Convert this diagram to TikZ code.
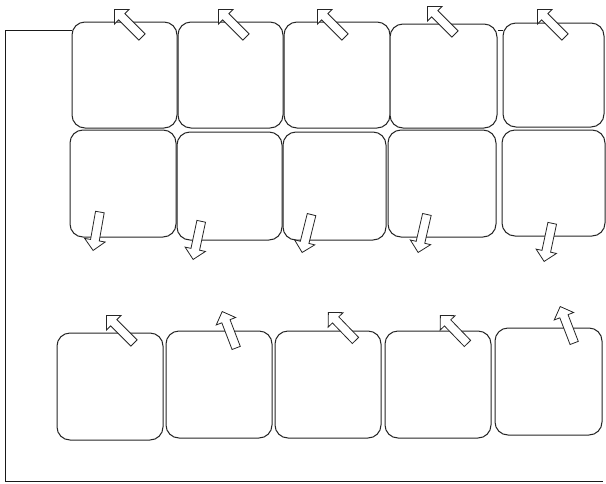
\documentclass[tikz,border=0pt]{standalone}
\usetikzlibrary{shapes.arrows}
\begin{document}
\begin{tikzpicture}[x=1pt,y=-1pt,
  box/.style={draw=black!85, fill=white, rounded corners=13pt, line width=1pt, inner sep=0pt},
  arr/.style={single arrow, draw=black!85, fill=white, line width=0.8pt, inner xsep=0pt, inner ysep=4pt,
    minimum height=39pt, single arrow head extend=6pt, single arrow tip angle=90, anchor=tip},
  frame/.style={draw=black!90, line width=1pt}]
\useasboundingbox (0,0) rectangle (606,483);
\coordinate (fcorner) at (5.5,30);
\coordinate (fend) at (603,481.5);
% boxes row 1
\node[box, minimum width=105pt, minimum height=106pt] (b1) at (124.5,75) {};
\node[box, minimum width=105pt, minimum height=106pt] (b2) at (230.5,75) {};
\node[box, minimum width=106pt, minimum height=106pt] (b3) at (337,75) {};
\node[box, minimum width=107pt, minimum height=104pt] (b4) at (443.5,76) {};
\node[box, minimum width=101pt, minimum height=104pt] (b5) at (553.5,75) {};
% row 2
\node[box, minimum width=106pt, minimum height=107pt] (b6) at (123,183.5) {};
\node[box, minimum width=105pt, minimum height=108pt] (b7) at (229.5,186) {};
\node[box, minimum width=103pt, minimum height=108pt] (b8) at (334.5,186) {};
\node[box, minimum width=108pt, minimum height=107pt] (b9) at (442,183.5) {};
\node[box, minimum width=103pt, minimum height=106pt] (b10) at (553.5,183) {};
% row 3
\node[box, minimum width=106pt, minimum height=107pt] (b11) at (110,386.5) {};
\node[box, minimum width=106pt, minimum height=107pt] (b12) at (219,384.5) {};
\node[box, minimum width=106pt, minimum height=107pt] (b13) at (328,384.5) {};
\node[box, minimum width=106pt, minimum height=107pt] (b14) at (438,384.5) {};
\node[box, minimum width=107pt, minimum height=107pt] (b15) at (548.5,381.5) {};
% frame line: runs behind row 1, visible in the gaps
\draw[frame] (b5.west |- fcorner) -- (b4.east |- fcorner);
\draw[frame] (b1.west |- fcorner) -- (fcorner) |- (fend);
% arrows row 1
\node[arr, rotate=135] (a1) at (114,9) {};
\node[arr, rotate=135] (a2) at (218,9) {};
\node[arr, rotate=135] (a3) at (317,9) {};
\node[arr, rotate=135] (a4) at (427,6) {};
\node[arr, rotate=135] (a5) at (537,9) {};
% arrows row 2
\node[arr, rotate=-100] (a6) at (93,251) {};
\node[arr, rotate=-102] (a7) at (193,260) {};
\node[arr, rotate=-104] (a8) at (302,253) {};
\node[arr, rotate=-103] (a9) at (418,253) {};
\node[arr, rotate=-102] (a10) at (544,262) {};
% arrows row 3
\node[arr, rotate=135] (a11) at (106,315) {};
\node[arr, rotate=111] (a12) at (222,311) {};
\node[arr, rotate=134] (a13) at (328,312) {};
\node[arr, rotate=134] (a14) at (440,315) {};
\node[arr, rotate=111] (a15) at (560,306) {};
\end{tikzpicture}
\end{document}
